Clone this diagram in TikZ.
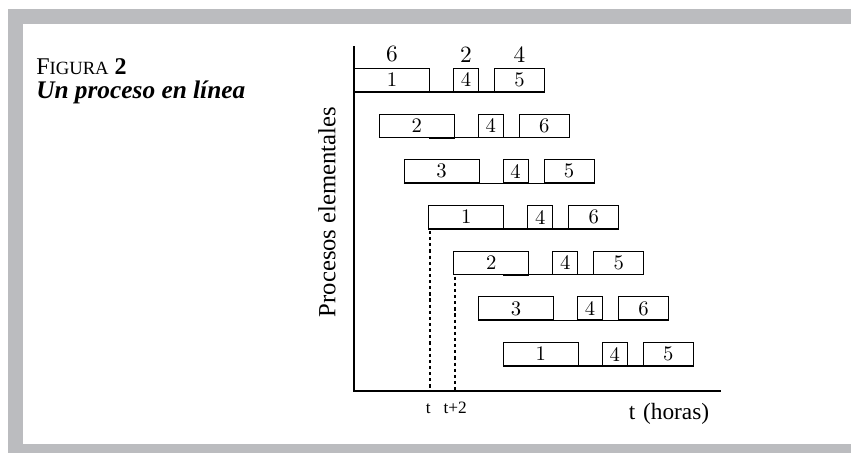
\documentclass[tikz,border=0pt]{standalone}
\usepackage{fontspec}
\newfontfamily\timesfont{Liberation Serif}
\newfontfamily\digitfont{lmroman10-regular}[Extension=.otf]
\usetikzlibrary{positioning}
\definecolor{framegray}{RGB}{187,188,191}

\begin{document}
\begin{tikzpicture}[
    x=0.75pt,
    y=-0.75pt,
    every node/.style={inner sep=0pt},
    frame/.style={fill=framegray},
    axis/.style={line width=1.5pt, line cap=rect},
    job/.style={draw, rectangle, line width=0.75pt, anchor=south west,
      minimum height=17.25pt, font=\digitfont\fontsize{15.5}{16}\selectfont},
    rowline/.style={line width=1.1pt},
    overlap/.style={line width=1.6pt},
    guide/.style={dashed, dash pattern=on 2.4pt off 2.2pt, line width=1.5pt},
    dur/.style={font=\digitfont\fontsize{17.5}{18}\selectfont},
    tick/.style={anchor=base, font=\timesfont\fontsize{13}{13}\selectfont},
    axlabel/.style={font=\timesfont\fontsize{18.5}{19}\selectfont}
  ]
    % page size and grey frame
    \useasboundingbox (0,0) rectangle (851,453);
    \fill[frame] (8,9) rectangle (851,24);
    \fill[frame] (8,9) rectangle (23,453);
    \fill[frame] (8,444) rectangle (851,453);

    % caption, two lines in one node
    \node[anchor=north west, align=left, font=\timesfont\fontsize{18}{18.5}\selectfont]
      (caption) at (36,58)
      {F{\fontsize{14}{18.5}\selectfont IGURA} \textbf{2}\\
       {\fontsize{19}{18.5}\selectfont\bfseries\itshape Un proceso en línea}};

    % axes
    \coordinate (ytop) at (354,47);
    \coordinate (o) at (354,391);
    \coordinate (xend) at (720,391);
    \draw[axis] (ytop) -- (o) -- (xend);

    % one row per elementary process, each shifted by one step
    \foreach \k/\a/\c in {1/1/5,2/2/6,3/3/5,4/1/6,5/2/5,6/3/6,7/1/5} {
      \pgfmathsetmacro{\s}{354+24.8*(\k-1)}
      \pgfmathsetmacro{\b}{92+45.67*(\k-1)}
      \node[job, minimum width=56.25pt] (a\k) at (\s,\b) {\a};
      \node[job, minimum width=18.75pt] (b\k) at (\s+99,\b) {4};
      \node[job, minimum width=37.5pt] (c\k) at (\s+140,\b) {\c};
      \draw[rowline] (a\k.south west) -- (c\k.south east);
      \draw[overlap] ([xshift=-19.5pt]a\k.south east) -- (a\k.south east);
    }

    % durations over the first row
    \node[dur, above=4pt of a1] (d1) {6};
    \node[dur, above=4pt of b1] (d2) {2};
    \node[dur, above=4pt of c1] (d3) {4};

    % start times of rows 4 and 5
    \draw[guide] ([xshift=1pt, yshift=-1.5pt]a4.south west) -- ([xshift=1pt]a4.south west |- o);
    \draw[guide] ([xshift=1pt, yshift=-1.5pt]a5.south west) -- ([xshift=1pt]a5.south west |- o);
    \node[tick] (t0) at ([yshift=-16.5pt]a4.south west |- o) {t};
    \node[tick] (t2) at ([xshift=1.5pt, yshift=-16.5pt]a5.south west |- o) {t+2};

    % axis labels
    \node[anchor=base, font=\timesfont\fontsize{17.5}{18}\selectfont] (xlab) at (669,419)
      {t\,\,(horas)};
    \node[axlabel, rotate=90] (ylab) at (327,212) {Procesos elementales};
  \end{tikzpicture}
\end{document}
